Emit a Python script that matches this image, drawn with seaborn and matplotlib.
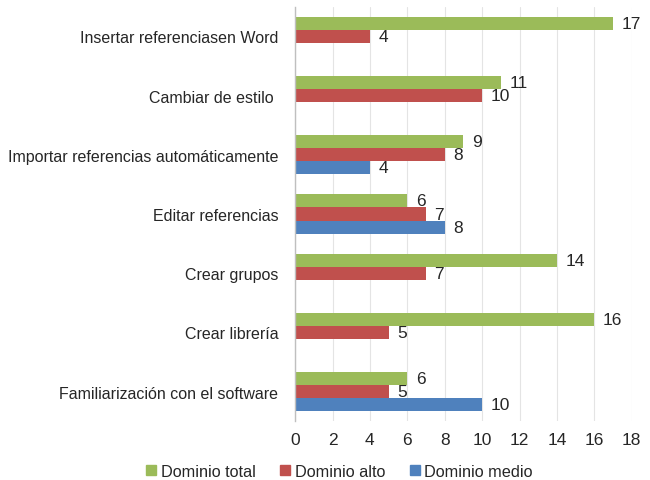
import numpy as np
import pandas as pd
import matplotlib
matplotlib.use("Agg")
import matplotlib.pyplot as plt
from matplotlib.lines import Line2D
import seaborn as sns

categories = ["Insertar referenciasen Word", "Cambiar de estilo ",
              "Importar referencias automáticamente", "Editar referencias",
              "Crear grupos", "Crear librería", "Familiarización con el software"]
series = ["Dominio total", "Dominio alto", "Dominio medio"]
dominio_total = [17, 11, 9, 6, 14, 16, 6]
dominio_alto = [4, 10, 8, 7, 7, 5, 5]
dominio_medio = [np.nan, np.nan, 4, 8, np.nan, np.nan, 10]
colors = ["#9BBB59", "#C0504D", "#4F81BD"]

rows = []
for s, vals in zip(series, [dominio_total, dominio_alto, dominio_medio]):
    for c, v in zip(categories, vals):
        rows.append({"cat": c, "serie": s, "valor": v})
df = pd.DataFrame(rows)

sns.set_theme(style="white")
plt.rcParams['font.family'] = ['Liberation Sans', 'DejaVu Sans']

fig = plt.figure(figsize=(6.5, 4.81), dpi=100)
ax = fig.add_axes([0.454, 0.122, 0.518, 0.862])
sns.barplot(data=df, y="cat", x="valor", hue="serie", order=categories,
            hue_order=series, palette=colors, orient="h", width=0.66,
            saturation=1, ax=ax, legend=False, edgecolor="none")

for cont in ax.containers:
    labels = []
    for b in cont:
        w = b.get_width()
        labels.append("" if (np.isnan(w) or w == 0) else f"{w:g}")
    ax.bar_label(cont, labels=labels, padding=6, fontsize=12.5, color="#262626")

ax.set_xlim(0, 18)
ax.set_xticks(range(0, 19, 2))
ax.set_xlabel("")
ax.set_ylabel("")
ax.grid(axis="x", color="#e4e4e4", linewidth=0.8)
ax.set_axisbelow(True)
for sp in ["top", "right", "bottom"]:
    ax.spines[sp].set_visible(False)
ax.spines["left"].set_color("#bfbfbf")
ax.spines["left"].set_linewidth(1)
ax.tick_params(axis="y", length=0, labelsize=11.5, colors="#262626", pad=12)
ax.tick_params(axis="x", length=0, labelsize=12.5, colors="#262626", pad=8)

handles = [Line2D([0], [0], marker="s", linestyle="none", markersize=7,
                  markerfacecolor=c, markeredgecolor=c) for c in colors]
fig.legend(handles, series, loc="center", bbox_to_anchor=(0.52, 0.018),
           ncol=3, frameon=False, fontsize=11.7, handletextpad=0.1,
           columnspacing=1.3, handlelength=1)

fig.savefig("out.png", dpi=100)
